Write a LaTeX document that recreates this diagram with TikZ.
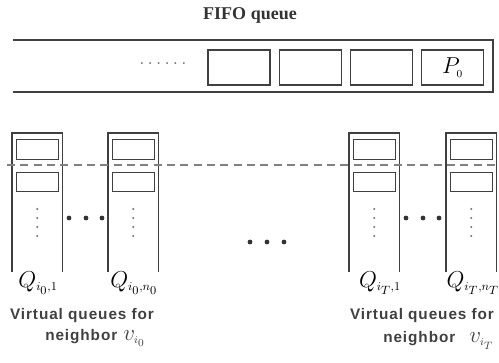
\documentclass[tikz,border=0pt]{standalone}
\usepackage{fontspec}
\setmainfont{Liberation Serif}
\newfontfamily\labelfont[LetterSpace=6]{Liberation Sans}
\usetikzlibrary{positioning}

\tikzset{
  slot/.style={draw=black!75, line width=0.9pt, minimum width=46.5pt, minimum height=26.25pt, inner sep=0pt},
  vslot/.style={draw=black!75, line width=0.9pt, minimum width=31.5pt, minimum height=14.5pt, inner sep=0pt},
  frame/.style={draw=black!75, line width=1pt},
  bigdot/.style={circle, fill=black!80, inner sep=0pt, minimum size=3.6pt},
  smalldot/.style={circle, fill=black!55, inner sep=0pt, minimum size=1.6pt},
  qlabel/.style={font=\fontsize{18}{20}\selectfont, inner sep=0pt},
  caption/.style={font=\labelfont\bfseries\fontsize{11.5}{13}\selectfont, text=black!75, inner sep=0pt},
  vlabel/.style={font=\fontsize{17}{19}\selectfont, text=black!75, inner sep=0pt, anchor=base west}
}

\begin{document}
\begin{tikzpicture}[x=0.75pt, y=-0.75pt]
\useasboundingbox (0,0) rectangle (499,362);

% FIFO queue
\node[font=\bfseries\fontsize{13.5}{15}\selectfont, text=black!80] (title) at (250,15) {FIFO queue};
\draw[frame] (13,40) -- (493,40) -- (493,92) -- (13,92);
\node[slot] (s1) at (239,67.5) {};
\node[slot, right=6pt of s1] (s2) {};
\node[slot, right=6pt of s2] (s3) {};
\node[slot, right=6pt of s3, font=\fontsize{17}{19}\selectfont] (s4) {$P_{\scriptscriptstyle 0}$};
\node[font=\fontsize{14}{16}\selectfont, text=black!60] (fdots) at (163,64) {$\ldots\ldots$};

% virtual queues
\foreach \x/\n in {12/a, 108/b, 349/c, 446/d} {
  \draw[frame] (\x,272) -- (\x,133) -- (\x+50.5,133) -- (\x+50.5,272);
  \node[vslot] (\n1) at (\x+25.25,149.5) {};
  \node[vslot] (\n2) at (\x+25.25,182) {};
  \foreach \y in {209,218,227,236}
    \node[smalldot] at (\x+25.25,\y) {};
}

% separator
\coordinate (dl) at (7,165);
\coordinate (dr) at (499,165);
\draw[black!50, line width=1pt, dash pattern=on 6pt off 4pt] (dl) -- (dr);

% dots between queues
\foreach \x in {69,86,102,406,423,439}
  \node[bigdot] at (\x,218) {};
\foreach \x in {250,267,284}
  \node[bigdot] at (\x,242) {};

% labels
\node[qlabel] (qa) at (38,283) {$Q_{\scriptscriptstyle i_0,1}$};
\node[qlabel] (qb) at (134,283) {$Q_{\scriptscriptstyle i_0,n_0}$};
\node[qlabel] (qc) at (380,283) {$Q_{\scriptscriptstyle i_T,1}$};
\node[qlabel] (qd) at (473,283) {$Q_{\scriptscriptstyle i_T,n_T}$};

\node[caption] (capa) at (82,316) {Virtual queues for};
\node[caption, anchor=base west] (nba) at (45,340) {neighbor};
\node[vlabel] (va) at (123,340) {$v_{\scriptscriptstyle i_0}$};
\node[caption] (capd) at (422,316) {Virtual queues for};
\node[caption, anchor=base west] (nbd) at (383,342) {neighbor};
\node[vlabel] (vd) at (469,342) {$v_{\scriptscriptstyle i_T}$};
\end{tikzpicture}
\end{document}
